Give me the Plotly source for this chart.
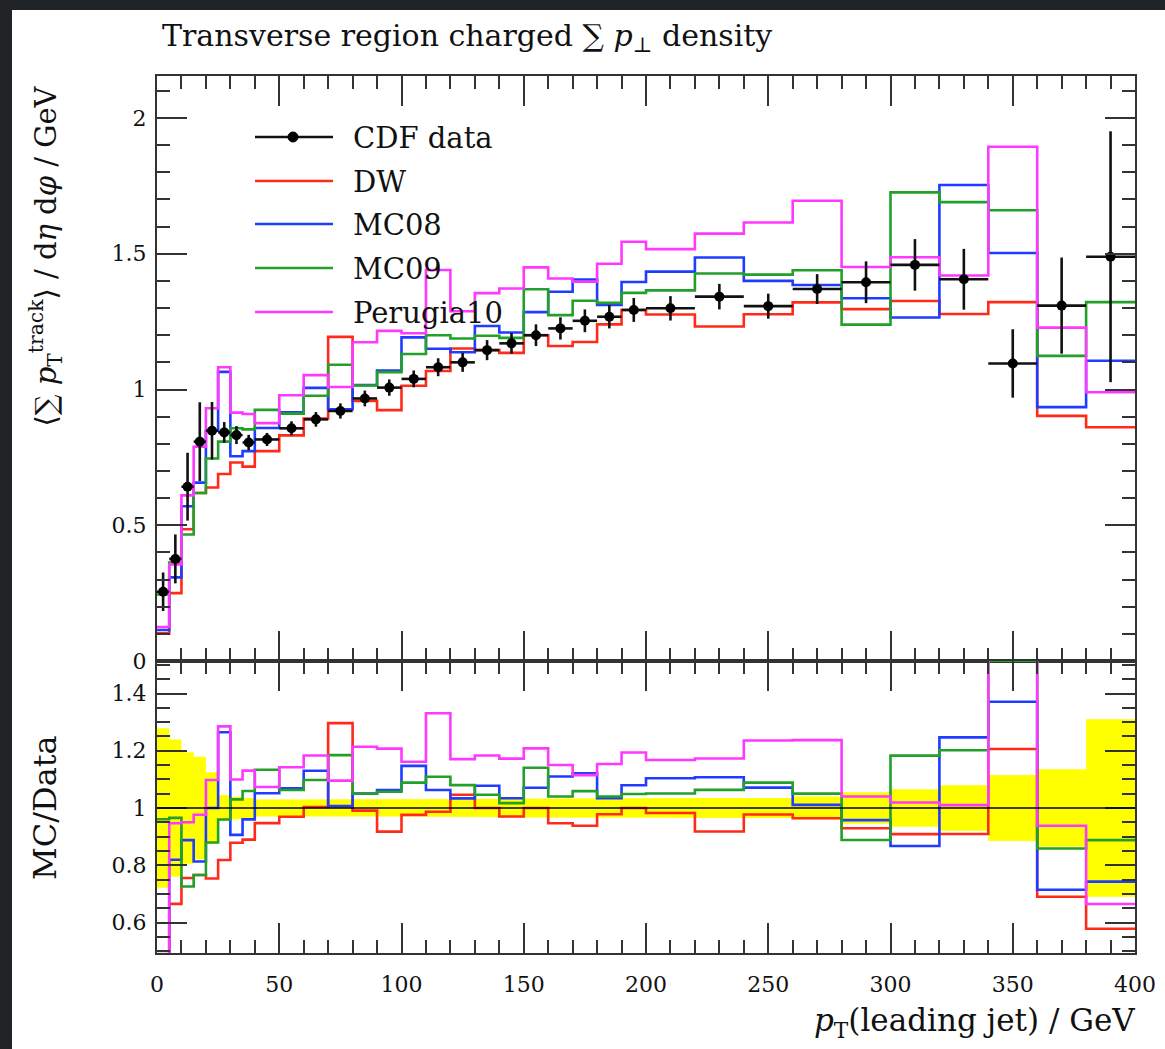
import plotly.graph_objects as go

# ---------------- data ----------------
bin_edges = [0, 5, 10, 15, 20, 25, 30, 35, 40, 50, 60, 70, 80, 90, 100, 110, 120, 130,
             140, 150, 160, 170, 180, 190, 200, 220, 240, 260, 280, 300, 320, 340, 360,
             380, 400]

cdf_data = [0.255, 0.376, 0.642, 0.808, 0.848, 0.842, 0.832, 0.805, 0.816, 0.857,
            0.890, 0.921, 0.967, 1.007, 1.039, 1.082, 1.100, 1.145, 1.170, 1.200,
            1.225, 1.253, 1.268, 1.293, 1.299, 1.342, 1.307, 1.370, 1.395, 1.459,
            1.406, 1.096, 1.309, 1.489]
cdf_err = [0.071, 0.090, 0.125, 0.145, 0.106, 0.038, 0.033, 0.028, 0.024, 0.026,
           0.027, 0.028, 0.029, 0.030, 0.031, 0.033, 0.035, 0.037, 0.038, 0.040,
           0.041, 0.042, 0.043, 0.044, 0.045, 0.047, 0.046, 0.055, 0.077, 0.095,
           0.112, 0.126, 0.177, 0.462]

dw = [0.102, 0.250, 0.485, 0.619, 0.639, 0.689, 0.731, 0.716, 0.773, 0.831,
      0.893, 1.194, 0.958, 0.924, 1.014, 1.068, 1.151, 1.145, 1.135, 1.200,
      1.160, 1.175, 1.240, 1.293, 1.276, 1.232, 1.277, 1.321, 1.296, 1.326,
      1.278, 1.322, 0.903, 0.861]
mc08 = [0.114, 0.308, 0.570, 0.657, 0.848, 1.065, 0.754, 0.773, 0.858, 0.916,
        1.006, 0.927, 1.016, 1.070, 1.192, 1.150, 1.137, 1.234, 1.210, 1.285,
        1.360, 1.405, 1.311, 1.396, 1.434, 1.486, 1.400, 1.385, 1.336, 1.265,
        1.753, 1.503, 0.935, 1.106]
mc09 = [0.245, 0.363, 0.466, 0.619, 0.746, 0.808, 0.857, 0.853, 0.925, 0.911,
        0.977, 1.091, 1.015, 1.064, 1.131, 1.200, 1.188, 1.198, 1.190, 1.369,
        1.274, 1.327, 1.319, 1.356, 1.365, 1.427, 1.423, 1.439, 1.239, 1.726,
        1.690, 1.660, 1.124, 1.322]
perugia10 = [0.125, 0.356, 0.610, 0.789, 0.931, 1.082, 0.915, 0.910, 0.876, 0.979,
             1.053, 1.009, 1.174, 1.216, 1.207, 1.440, 1.288, 1.355, 1.372, 1.450,
             1.409, 1.397, 1.463, 1.544, 1.517, 1.574, 1.615, 1.695, 1.451, 1.487,
             1.420, 1.894, 1.228, 0.990]

mc_names = ["DW", "MC08", "MC09", "Perugia10"]
mc_values = [dw, mc08, mc09, perugia10]
mc_colors = ["#ff2a1a", "#1f3cff", "#22a02a", "#ff38ff"]

x_ticks = [0, 50, 100, 150, 200, 250, 300, 350, 400]
main_ticks = [0, 0.5, 1, 1.5, 2]
main_ticktext = ["0", "0.5", "1", "1.5", "2"]
ratio_ticks = [0.6, 0.8, 1.0, 1.2, 1.4]
ratio_ticktext = ["0.6", "0.8", "1", "1.2", "1.4"]

# ---------------- layout geometry (pixels) ----------------
W, H = 1165, 1049
L, R, T, B = 157, 1135, 76, 953
SPLIT = 661
FONT = "DejaVu Serif"
INK = "#111111"
FRAME = "#333333"


def fx(p):
    return (p - L) / (R - L)


def fy(p):
    return (B - p) / (B - T)


main_range = [0, (SPLIT - T) / 271.5]
ratio_range = [1 - (B - 808) / 286.25, 1 + (808 - SPLIT) / 286.25]

fig = go.Figure()

# yellow data-uncertainty band in ratio panel
band_x, band_up, band_lo = [], [], []
for i in range(len(cdf_data)):
    rel = cdf_err[i] / cdf_data[i]
    band_x += [bin_edges[i], bin_edges[i + 1]]
    band_up += [1 + rel, 1 + rel]
    band_lo += [1 - rel, 1 - rel]
fig.add_trace(go.Scatter(x=band_x + band_x[::-1], y=band_up + band_lo[::-1],
                         fill="toself", fillcolor="#ffff00", mode="lines",
                         line=dict(width=0, color="#ffff00"), hoverinfo="skip",
                         xaxis="x2", yaxis="y2", showlegend=False))

# MC histograms
for name, vals, col in zip(mc_names, mc_values, mc_colors):
    fig.add_trace(go.Scatter(x=bin_edges, y=vals + [vals[-1]], mode="lines",
                             line=dict(shape="hv", color=col, width=2.6),
                             name=name, xaxis="x", yaxis="y", showlegend=False))
    ratio = [v / d for v, d in zip(vals, cdf_data)]
    fig.add_trace(go.Scatter(x=bin_edges, y=ratio + [ratio[-1]], mode="lines",
                             line=dict(shape="hv", color=col, width=2.6),
                             name=name, xaxis="x2", yaxis="y2", showlegend=False))

# CDF data points
centers = [(a + b) / 2 for a, b in zip(bin_edges[:-1], bin_edges[1:])]
halfw = [(b - a) / 2 for a, b in zip(bin_edges[:-1], bin_edges[1:])]
fig.add_trace(go.Scatter(x=centers, y=cdf_data, mode="markers",
                         marker=dict(color="black", size=10),
                         error_x=dict(type="data", array=halfw, symmetric=True,
                                      color="#111111", thickness=2.6, width=0),
                         error_y=dict(type="data", array=cdf_err, symmetric=True,
                                      color="#111111", thickness=2.6, width=0),
                         name="CDF data", xaxis="x", yaxis="y", showlegend=False))

axis_common = dict(showline=True, linecolor=FRAME, linewidth=2, mirror="allticks",
                   ticks="inside", tickcolor=FRAME, tickwidth=2, ticklen=30,
                   showgrid=False, zeroline=False,
                   tickfont=dict(family=FONT, size=22, color=INK))

fig.update_layout(
    width=W, height=H,
    margin=dict(l=L, r=W - R, t=T, b=H - B, autoexpand=False),
    paper_bgcolor="#202427", plot_bgcolor="white",
    xaxis=dict(axis_common, domain=[0, 1], range=[0, 400], anchor="y",
               tickvals=x_ticks, showticklabels=False,
               minor=dict(dtick=10, ticks="inside", ticklen=13, tickwidth=2,
                          tickcolor=FRAME)),
    yaxis=dict(axis_common, domain=[fy(SPLIT), 1], range=main_range, anchor="x",
               tickvals=main_ticks, ticktext=main_ticktext, ticklabelstandoff=4,
               minor=dict(dtick=0.1, ticks="inside", ticklen=13, tickwidth=2,
                          tickcolor=FRAME)),
    xaxis2=dict(axis_common, domain=[0, 1], range=[0, 400], anchor="y2",
                tickvals=x_ticks, ticklabelstandoff=11,
                minor=dict(dtick=10, ticks="inside", ticklen=13, tickwidth=2,
                           tickcolor=FRAME)),
    yaxis2=dict(axis_common, domain=[0, fy(SPLIT)], range=ratio_range, anchor="x2",
                tickvals=ratio_ticks, ticktext=ratio_ticktext, ticklabelstandoff=4,
                minor=dict(dtick=0.05, ticks="inside", ticklen=13, tickwidth=2,
                           tickcolor=FRAME)),
)

shapes = []
# white page area over the dark slide background
shapes.append(dict(type="rect", xref="paper", yref="paper", layer="below",
                   x0=fx(12), x1=fx(W + 5), y0=fy(H + 5), y1=fy(10),
                   fillcolor="white", line=dict(width=0)))
# unity line in ratio panel
shapes.append(dict(type="line", xref="x2 domain", yref="y2", x0=0, x1=1, y0=1, y1=1,
                   line=dict(color="black", width=1.6)))

# legend (drawn manually to reproduce long sample lines)
leg_names = ["CDF data"] + mc_names
leg_colors = ["#111111"] + mc_colors
leg_rows = [137, 181, 224, 268, 312]
annotations = []
for nm, col, py in zip(leg_names, leg_colors, leg_rows):
    shapes.append(dict(type="line", xref="paper", yref="paper",
                       x0=fx(255), x1=fx(333), y0=fy(py), y1=fy(py),
                       line=dict(color=col, width=2.6)))
    annotations.append(dict(xref="paper", yref="paper", x=fx(351), y=fy(py + 1),
                            xanchor="left", yanchor="middle", showarrow=False,
                            text=nm, font=dict(family=FONT, size=29, color=INK)))
shapes.append(dict(type="circle", xref="paper", yref="paper",
                   x0=fx(288), x1=fx(298), y0=fy(leg_rows[0] + 5), y1=fy(leg_rows[0] - 5),
                   fillcolor="black", line=dict(color="black", width=1)))

# title and axis titles
annotations.append(dict(xref="paper", yref="paper", x=fx(160), y=fy(38),
                        xanchor="left", yanchor="middle", showarrow=False,
                        text="Transverse region charged ∑ <i>p</i><sub>⊥</sub> density",
                        font=dict(family=FONT, size=30, color=INK)))
annotations.append(dict(xref="paper", yref="paper", x=fx(45), y=fy(84),
                        xanchor="center", yanchor="top", showarrow=False, textangle=-90,
                        text="⟨∑ <i>p</i><sub>T</sub><sup>track</sup>⟩ / d<i>η</i> d<i>φ</i> / GeV",
                        font=dict(family=FONT, size=29, color=INK)))
annotations.append(dict(xref="paper", yref="paper", x=fx(45), y=fy(808),
                        xanchor="center", yanchor="middle", showarrow=False, textangle=-90,
                        text="MC/Data", font=dict(family=FONT, size=32, color=INK)))
annotations.append(dict(xref="paper", yref="paper", x=fx(1137), y=fy(1022),
                        xanchor="right", yanchor="middle", showarrow=False,
                        text="<i>p</i><sub>T</sub>(leading jet) / GeV",
                        font=dict(family=FONT, size=31, color=INK)))

fig.update_layout(shapes=shapes, annotations=annotations)

fig.write_html("out.html")
